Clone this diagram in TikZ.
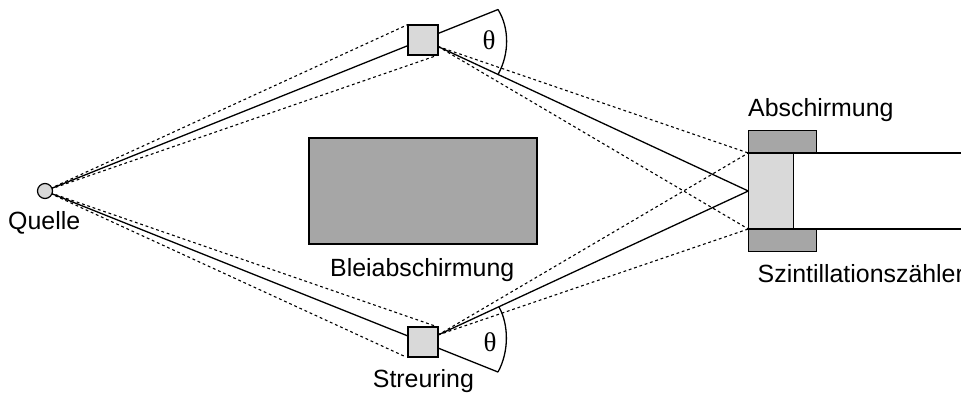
\documentclass[tikz,border=0pt]{standalone}
\usepackage{fontspec}
\setmainfont{Liberation Sans}
\newfontfamily\thetafont{Liberation Serif}
\definecolor{lightfill}{HTML}{D9D9D9}
\definecolor{darkfill}{HTML}{A6A6A6}
\tikzset{
  beam/.style={line width=1.3pt,draw=black},
  dotbeam/.style={line width=1.1pt,draw=black,dash pattern=on 2.8pt off 2.8pt},
  scatterbox/.style={draw=black,line width=1.5pt,fill=lightfill,minimum size=30pt,inner sep=0pt,outer sep=0pt},
  sourcedot/.style={circle,draw=black,line width=1.2pt,fill=lightfill,minimum size=15pt,inner sep=0pt,outer sep=0pt},
  leadblock/.style={draw=black,line width=1.2pt,fill=darkfill,inner sep=0pt,outer sep=0pt},
  crystal/.style={draw=black,line width=1.3pt,fill=lightfill,inner sep=0pt,outer sep=0pt},
  lab/.style={anchor=base west,inner sep=0pt,font=\fontsize{24.9}{30}\selectfont},
  anglab/.style={anchor=center,inner sep=0pt,font=\thetafont\fontsize{27}{30}\selectfont}
}
\begin{document}
\begin{tikzpicture}[x=1pt,y=-1pt]
\useasboundingbox (0,0) rectangle (961,394);
% geometry ports
\coordinate (src) at (45,191);
\coordinate (topTL) at (408,24.5);
\coordinate (topBR) at (438.3,55);
\coordinate (topOut) at (438,46.5);
\coordinate (topEnd) at (498,9.5);
\coordinate (topMid) at (498,74.5);
\coordinate (botBL) at (406,357);
\coordinate (botTR) at (438,327);
\coordinate (botOut) at (438,335);
\coordinate (botEnd) at (498,372);
\coordinate (botMid) at (499,307);
\coordinate (detC) at (748.3,191);
\coordinate (detT) at (748.3,153);
\coordinate (detB) at (748.3,229);
\coordinate (tubeTa) at (793.5,153);
\coordinate (tubeBa) at (793.5,229);
\coordinate (tubeTb) at (961,153);
\coordinate (tubeBb) at (961,229);
% beams
\draw[beam] (src) -- (topEnd);
\draw[beam] (src) -- (botEnd);
\draw[dotbeam] (src) -- (topTL);
\draw[dotbeam] (src) -- (topBR);
\draw[dotbeam] (src) -- (botBL);
\draw[dotbeam] (src) -- (botTR);
\draw[beam] (topOut) -- (detC);
\draw[beam] (botOut) -- (detC);
\draw[dotbeam] (topOut) -- (detT);
\draw[dotbeam] (topOut) -- (detB);
\draw[dotbeam] (botOut) -- (detT);
\draw[dotbeam] (botOut) -- (detB);
% arcs
\draw[beam] (topEnd) .. controls (509.5,28) and (509.5,54) .. (topMid);
\draw[beam] (botMid) .. controls (509,325) and (509,352) .. (botEnd);
% tube
\draw[beam] (tubeTa) -- (tubeTb);
\draw[beam] (tubeBa) -- (tubeBb);
% objects
\node[scatterbox] (topbox) at (423,39.8) {};
\node[scatterbox] (botbox) at (423.2,342) {};
\node[sourcedot] (source) at (45,191) {};
\node[leadblock,minimum width=228pt,minimum height=106pt] (lead) at (423,191) {};
\node[leadblock,minimum width=68.2pt,minimum height=22.3pt] (shieldT) at (782.4,141.8) {};
\node[leadblock,minimum width=68.2pt,minimum height=22.5pt] (shieldB) at (782.4,240.2) {};
\node[crystal,minimum width=45.2pt,minimum height=76pt] (scint) at (770.9,191) {};
% labels
\node[anglab] (th1) at (489,40) {θ};
\node[anglab] (th2) at (490,342) {θ};
\node[lab] (q) at (8,229) {Quelle};
\node[lab] (a) at (748,116) {Abschirmung};
\node[lab] (s) at (757.5,282) {Szintillationszähler};
\node[lab] (b) at (330,276) {Bleiabschirmung};
\node[lab] (r) at (372.7,387.5) {Streuring};
\end{tikzpicture}
\end{document}
